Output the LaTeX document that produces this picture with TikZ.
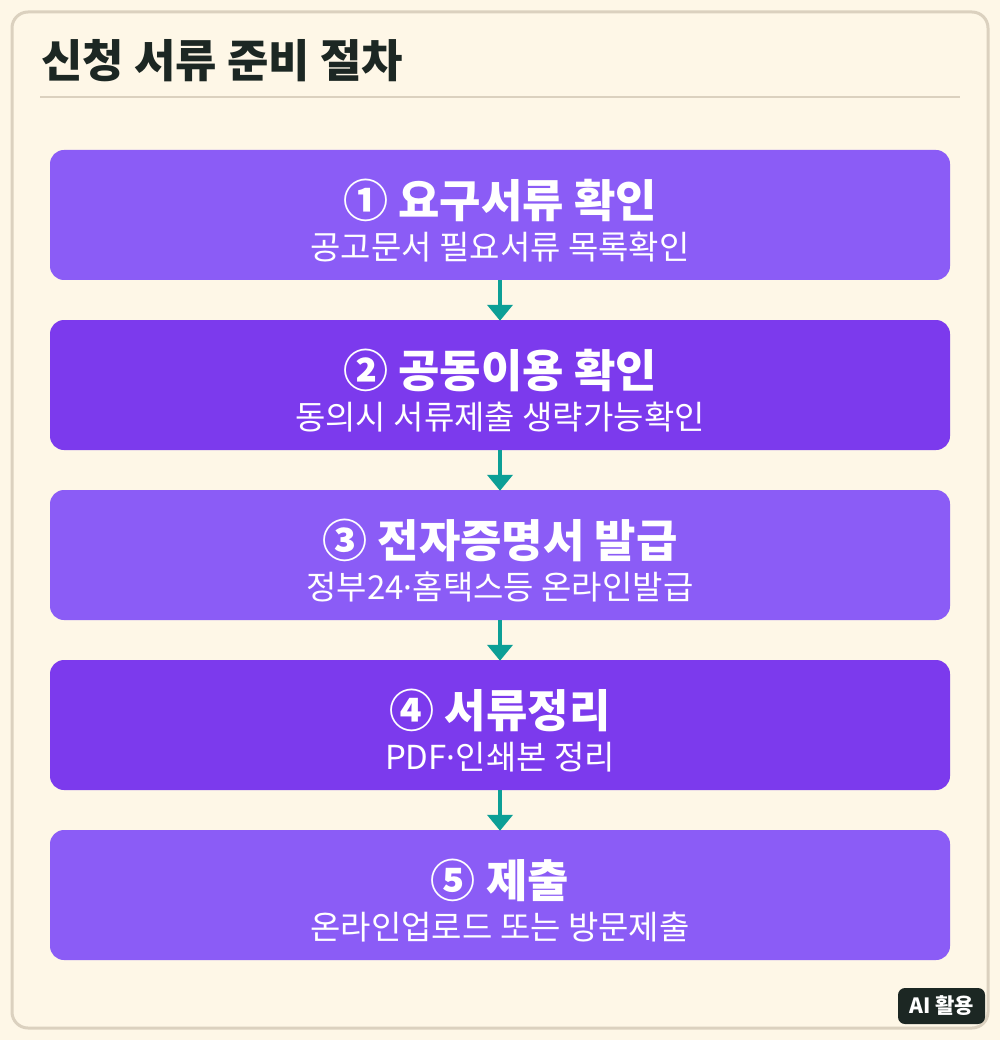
\documentclass[tikz,border=0pt]{standalone}
\usepackage{fontspec}
\setmainfont{Noto Sans CJK KR}
\newfontfamily\latinf{Noto Sans}
\usetikzlibrary{arrows.meta}
\definecolor{cream}{HTML}{FEF7E7}
\definecolor{frame}{HTML}{DBD1BF}
\definecolor{ink}{HTML}{1C2723}
\definecolor{vlight}{HTML}{8B5CF6}
\definecolor{vdark}{HTML}{7C3AED}
\definecolor{teal}{HTML}{0D9F96}
\tikzset{
  stepbox/.style={rounded corners=14pt, minimum width=900pt, minimum height=130pt, inner sep=0pt, draw=none},
  ttl/.style={text=white, font=\bfseries\fontsize{45pt}{48pt}\selectfont},
  sub/.style={text=white, font=\fontsize{33pt}{36pt}\selectfont},
  flow/.style={draw=teal, line width=4pt, -{Triangle[width=25pt,length=16pt]}, shorten >=-1pt}
}
\begin{document}
\begin{tikzpicture}[x=1pt,y=-1pt]
\fill[cream] (0,0) rectangle (1000,1040);
\useasboundingbox (0,0) rectangle (1000,1040);
\draw[frame, line width=3pt, fill=cream, rounded corners=16pt] (12,12) rectangle (988,1028);
\node[anchor=west, text=ink, inner sep=0pt, font=\bfseries\fontsize{45pt}{48pt}\selectfont] (title) at (41,61) {신청 서류 준비 절차};
\draw[frame, line width=2pt] (40,97) -- (960,97);
\node[stepbox, fill=vlight] (b1) at (500,215) {};
\node[stepbox, fill=vdark] (b2) at (500,385) {};
\node[stepbox, fill=vlight] (b3) at (500,555) {};
\node[stepbox, fill=vdark] (b4) at (500,725) {};
\node[stepbox, fill=vlight] (b5) at (500,895) {};
\node[ttl] (t1) at (500,200) {① 요구서류 확인};
\node[sub] (s1) at (500,247) {공고문서 필요서류 목록확인};
\node[ttl] (t2) at (500,370) {② 공동이용 확인};
\node[sub] (s2) at (500,417) {동의시 서류제출 생략가능확인};
\node[ttl] (t3) at (500,540) {③ 전자증명서 발급};
\node[sub] (s3) at (500,587) {정부24{\latinf ·}홈택스등 온라인발급};
\node[ttl] (t4) at (500,710) {④ 서류정리};
\node[sub] (s4) at (500,757) {PDF{\latinf ·}인쇄본 정리};
\node[ttl] (t5) at (500,880) {⑤ 제출};
\node[sub] (s5) at (500,927) {온라인업로드 또는 방문제출};
\draw[flow] (b1.south) -- (b2.north);
\draw[flow] (b2.south) -- (b3.north);
\draw[flow] (b3.south) -- (b4.north);
\draw[flow] (b4.south) -- (b5.north);
\node[fill=ink, rounded corners=7pt, minimum width=87pt, minimum height=36pt, inner sep=0pt, text=white, font=\bfseries\fontsize{21pt}{24pt}\selectfont] (ai) at (941.5,1006) {AI 활용};
\end{tikzpicture}
\end{document}
